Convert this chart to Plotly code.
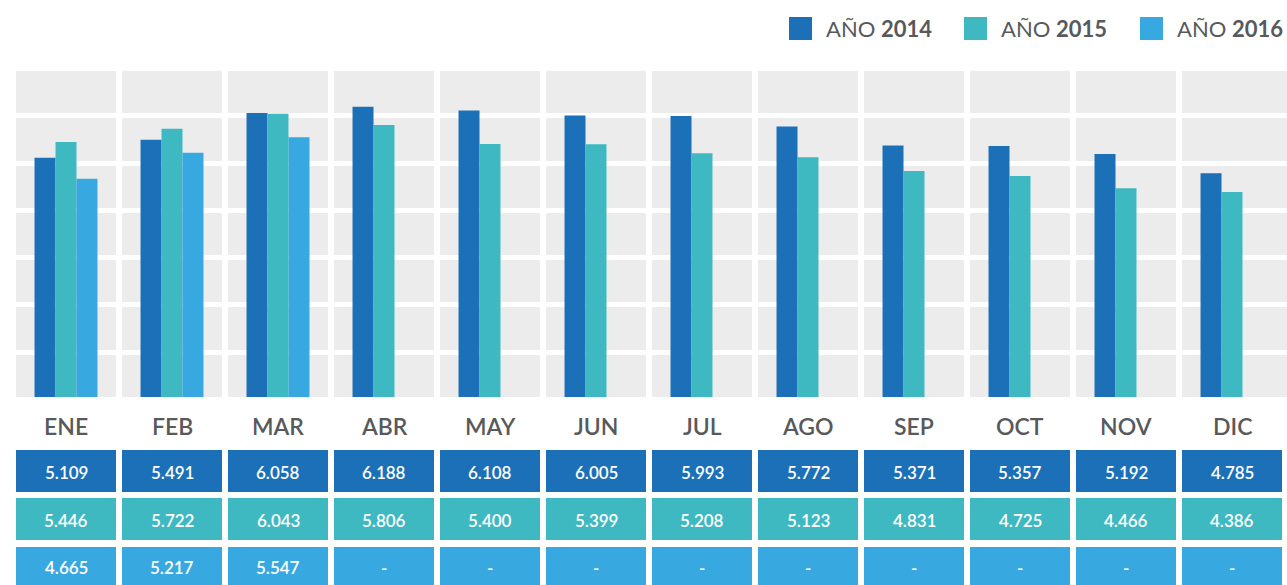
import plotly.graph_objects as go

months = ["ENE", "FEB", "MAR", "ABR", "MAY", "JUN", "JUL", "AGO", "SEP", "OCT", "NOV", "DIC"]
series_names = ["AÑO 2014", "AÑO 2015", "AÑO 2016"]
v2014 = [5.109, 5.491, 6.058, 6.188, 6.108, 6.005, 5.993, 5.772, 5.371, 5.357, 5.192, 4.785]
v2015 = [5.446, 5.722, 6.043, 5.806, 5.400, 5.399, 5.208, 5.123, 4.831, 4.725, 4.466, 4.386]
v2016 = [4.665, 5.217, 5.547, None, None, None, None, None, None, None, None, None]

colors = ["#1c70b8", "#3fb9c1", "#38a8e0"]
series = [v2014, v2015, v2016]
GRAY = "#ececec"
TXT = "#58595b"
FONT = "Lato"

W, H = 1287, 585
L, R, T, B = 16, 0, 71, 188
PW = W - L - R
PH = H - T - B

def xp(px):
    return (px - L) / PW

def yp(py):
    return (H - B - py) / PH

# category pitch in pixels, first boundary at 13 px
pitch = 106.0
x_lo = -0.5 + (L - 13) / pitch
x_hi = -0.5 + (W - R - 13) / pitch

unit = 47.3
zero_px = 399.5
y_lo = (zero_px - (H - B)) / unit
y_hi = (zero_px - T) / unit

fig = go.Figure()
for name, vals, col in zip(series_names, series, colors):
    fig.add_trace(go.Bar(
        x=months, y=vals, name=name, marker=dict(color=col, line=dict(width=0)),
        showlegend=False, hoverinfo="x+y",
    ))

shapes = []
annotations = []

# vertical white separators between months
for k in range(1, len(months)):
    shapes.append(dict(type="line", xref="x", yref="paper", x0=k - 0.5, x1=k - 0.5,
                       y0=0, y1=1, line=dict(color="white", width=6), layer="below"))

# month labels
for k, m in enumerate(months):
    annotations.append(dict(x=k, xref="x", y=yp(426), yref="paper", text=m, showarrow=False,
                            xanchor="center", yanchor="middle",
                            font=dict(family=FONT, size=23, color=TXT, weight=600)))

# table
rows_px = [(450, 492), (498, 540), (547, 588)]
half = 0.5 - 3.0 / pitch
for (top, bot), vals, col in zip(rows_px, series, colors):
    for k, v in enumerate(vals):
        shapes.append(dict(type="rect", xref="x", yref="paper", x0=k - half, x1=k + half,
                           y0=yp(bot), y1=yp(top), fillcolor=col, line=dict(width=0), layer="above"))
        label = "-" if v is None else f"{v:.3f}"
        annotations.append(dict(x=k, xref="x", y=yp((top + min(bot, 585)) / 2 + 1), yref="paper",
                                text=label, showarrow=False, xanchor="center", yanchor="middle",
                                font=dict(family=FONT, size=17, color="white", weight=600)))

# custom legend
leg_sq = [789, 964, 1140]
for sx, name, col in zip(leg_sq, series_names, colors):
    shapes.append(dict(type="rect", xref="paper", yref="paper", x0=xp(sx), x1=xp(sx + 23),
                       y0=yp(40), y1=yp(17), fillcolor=col, line=dict(width=0)))
    word, year = name.split(" ")
    annotations.append(dict(x=xp(sx + 35), xref="paper", y=yp(28.5), yref="paper",
                            text=f"{word} <b>{year}</b>", showarrow=False,
                            xanchor="left", yanchor="middle",
                            font=dict(family=FONT, size=22, color=TXT)))

fig.update_layout(
    width=W, height=H,
    margin=dict(l=L, r=R, t=T, b=B, pad=0),
    paper_bgcolor="white", plot_bgcolor=GRAY,
    barmode="group", bargap=0.406, bargroupgap=0,
    shapes=shapes, annotations=annotations,
    showlegend=False,
    xaxis=dict(range=[x_lo, x_hi], showgrid=False, showticklabels=False, ticks="",
               zeroline=False, showline=False, fixedrange=True),
    yaxis=dict(range=[y_lo, y_hi], tick0=0, dtick=1, showgrid=True, gridcolor="white",
               gridwidth=5, showticklabels=False, ticks="", zeroline=False, showline=False,
               fixedrange=True),
)

fig.write_html("out.html", config={"displayModeBar": False},
               post_script="document.body.style.margin='0';document.body.style.overflow='hidden';")
